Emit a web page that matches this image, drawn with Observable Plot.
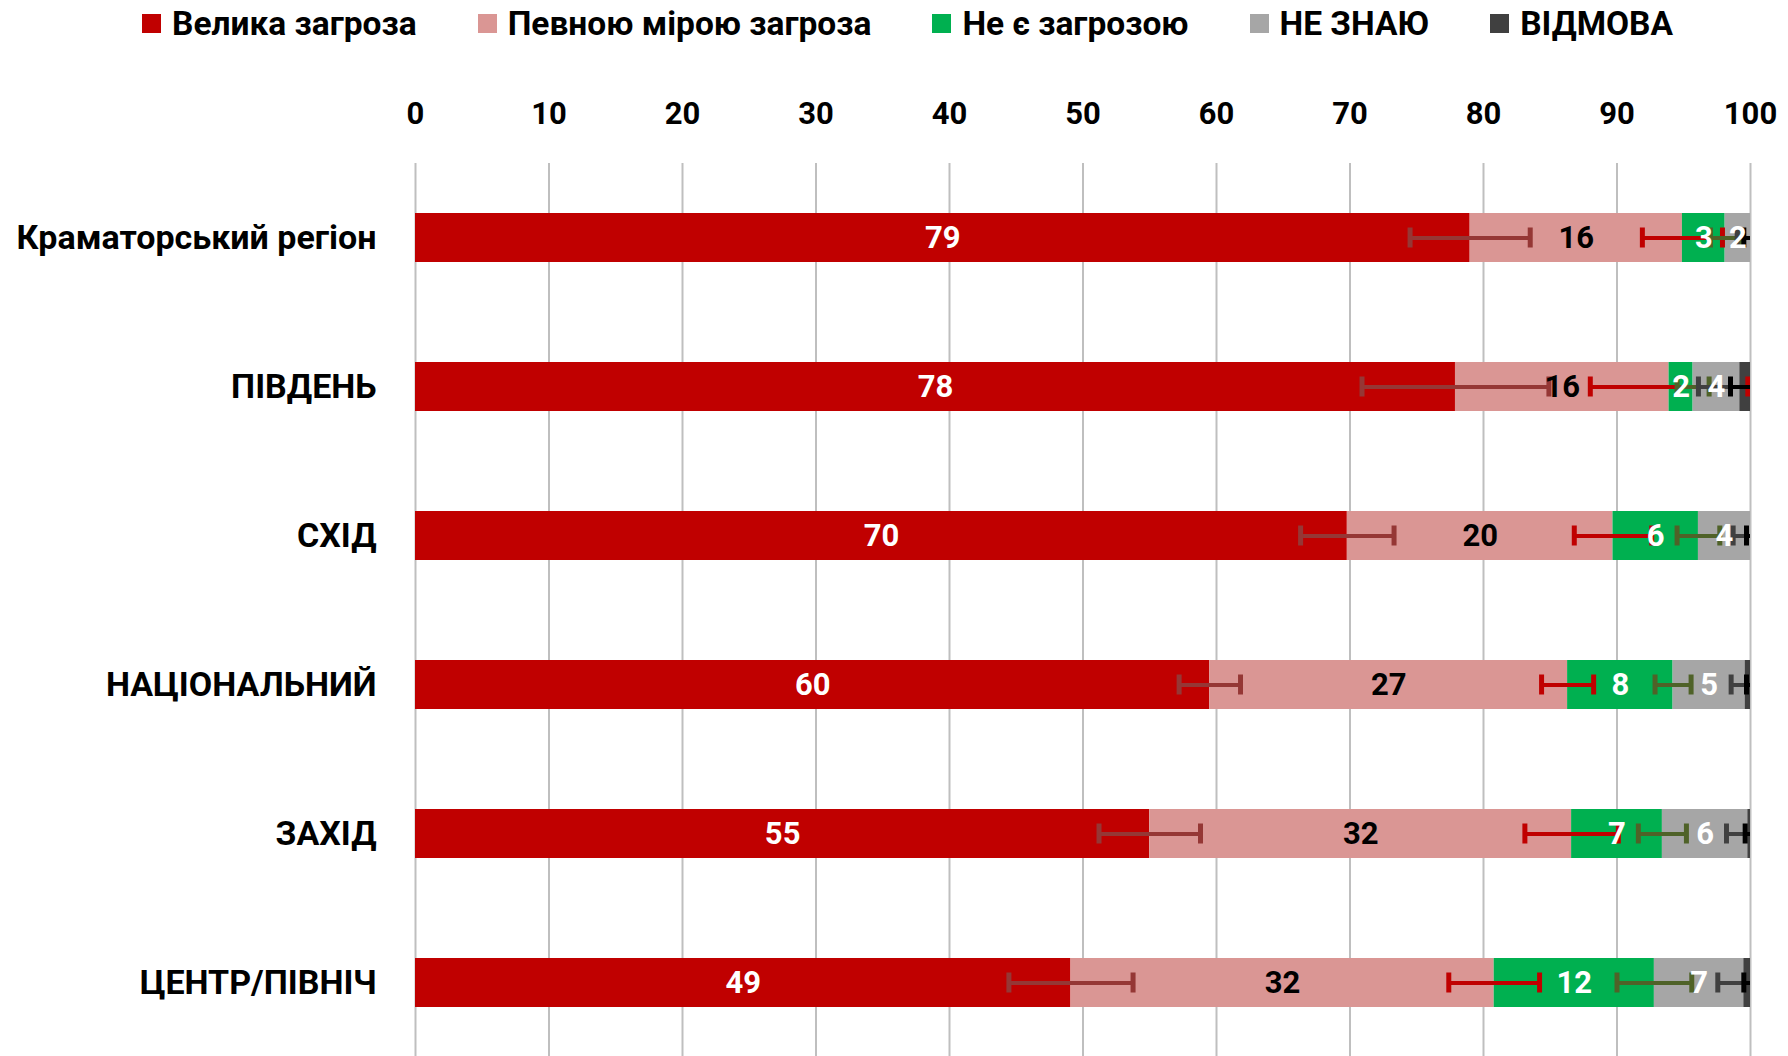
<!DOCTYPE html>
<html>
<head>
<meta charset="utf-8">
<script src="https://cdn.jsdelivr.net/npm/d3@7"></script>
<script src="https://cdn.jsdelivr.net/npm/@observablehq/plot@0.6"></script>
<style>
  html, body { margin: 0; padding: 0; background: #fff; }
  body { width: 1788px; height: 1056px; overflow: hidden; font-family: Roboto, "Noto Sans", sans-serif; font-weight: bold; }
  #legend { display: flex; align-items: center; height: 46px; padding-left: 142px; font-size: 33.5px; color: #000; }
  #legend .item { display: flex; align-items: center; margin-right: 61px; white-space: nowrap; }
  #legend .sw { width: 19px; height: 19px; margin-right: 11px; }
</style>
</head>
<body>
<div id="legend"></div>
<div id="chart"></div>
<script>
// ---- data ----
const regions = ["Краматорський регіон", "ПІВДЕНЬ", "СХІД", "НАЦІОНАЛЬНИЙ", "ЗАХІД", "ЦЕНТР/ПІВНІЧ"];
const series = ["Велика загроза", "Певною мірою загроза", "Не є загрозою", "НЕ ЗНАЮ", "ВІДМОВА"];
const velyka  = [79.0, 77.9, 69.8, 59.5, 55.0, 49.1];
const pevnoyu = [15.9, 16.0, 19.9, 26.8, 31.6, 31.7];
const neZagr  = [3.2, 1.8, 6.4, 7.9, 6.8, 12.0];
const neZnayu = [1.9, 3.5, 3.9, 5.4, 6.4, 6.7];
const vidmova = [0.0, 0.8, 0.0, 0.4, 0.2, 0.5];
// error margins (±) at the end of each segment
const errVelyka  = [4.5, 7.0, 3.5, 2.3, 3.8, 4.65];
const errPevnoyu = [3.0, 5.9, 2.9, 1.95, 3.5, 3.4];
const errNe      = [1.1, 1.2, 1.6, 1.35, 1.8, 2.8];
const errNeZnayu = [1.0, 3.1, 1.3, 1.05, 1.6, 1.95];
const errVidmova = [0.5, 1.5, 0.3, 0.3, 0.4, 0.5];
const xTicks = [0, 10, 20, 30, 40, 50, 60, 70, 80, 90, 100];

// ---- styles ----
const barColors = ["#C00000", "#DA9694", "#00B050", "#A6A6A6", "#404040"];
const errColors = ["#953735", "#C00000", "#4F6228", "#404040", "#000000"];
const labelColors = ["#ffffff", "#000000", "#ffffff", "#ffffff", null];

const values = [velyka, pevnoyu, neZagr, neZnayu, vidmova];
const errs = [errVelyka, errPevnoyu, errNe, errNeZnayu, errVidmova];

// build long table with cumulative positions
const table = [];
regions.forEach((r, i) => {
  let acc = 0;
  series.forEach((s, k) => {
    const v = values[k][i];
    table.push({region: r, series: s, k, value: v, x1: acc, x2: acc + v, mid: acc + v / 2, err: errs[k][i]});
    acc += v;
  });
});

// legend
const legend = document.getElementById("legend");
series.forEach((s, k) => {
  const it = document.createElement("div");
  it.className = "item";
  const sw = document.createElement("span");
  sw.className = "sw";
  sw.style.background = barColors[k];
  const t = document.createElement("span");
  t.textContent = s;
  it.appendChild(sw); it.appendChild(t);
  legend.appendChild(it);
});

const marks = [
  Plot.gridX({ticks: xTicks, stroke: "#BFBFBF", strokeOpacity: 1, strokeWidth: 2}),
  Plot.barX(table, {y: "region", x1: "x1", x2: "x2", fill: "series"}),
];
series.forEach((s, k) => {
  const d = table.filter(t => t.k === k);
  const lo = t => t.x2 - t.err, hi = t => t.x2 + t.err;
  marks.push(Plot.ruleY(d, {y: "region", x1: lo, x2: hi, stroke: errColors[k], strokeWidth: 4, clip: true}));
  marks.push(Plot.tickX(d, {y: "region", x: lo, stroke: errColors[k], strokeWidth: 5, insetTop: 14.5, insetBottom: 14.5, clip: true}));
  marks.push(Plot.tickX(d, {y: "region", x: hi, stroke: errColors[k], strokeWidth: 5, insetTop: 14.5, insetBottom: 14.5, clip: true}));
});
series.forEach((s, k) => {
  if (!labelColors[k]) return;
  const d = table.filter(t => t.k === k && Math.round(t.value) > 0);
  marks.push(Plot.text(d, {y: "region", x: "mid", text: t => String(Math.round(t.value)), fill: labelColors[k], fontSize: 31, fontWeight: "bold"}));
});
marks.push(Plot.axisX({anchor: "top", ticks: xTicks, tickSize: 0, tickPadding: 40, fontSize: 31, fontWeight: "bold", label: null}));
marks.push(Plot.axisY({tickSize: 0, tickPadding: 39, fontSize: 34, fontWeight: "bold", label: null}));

const chart = Plot.plot({
  width: 1788,
  height: 1011,
  marginLeft: 415,
  marginRight: 38,
  marginTop: 117,
  marginBottom: 0,
  style: {fontFamily: "Roboto, 'Noto Sans', sans-serif", fontWeight: "bold", color: "#000", background: "#fff"},
  x: {domain: [0, 100], axis: null},
  y: {domain: regions, paddingInner: 0.671, paddingOuter: 0.3355, axis: null},
  color: {domain: series, range: barColors},
  marks
});
document.getElementById("chart").appendChild(chart);
</script>
</body>
</html>
